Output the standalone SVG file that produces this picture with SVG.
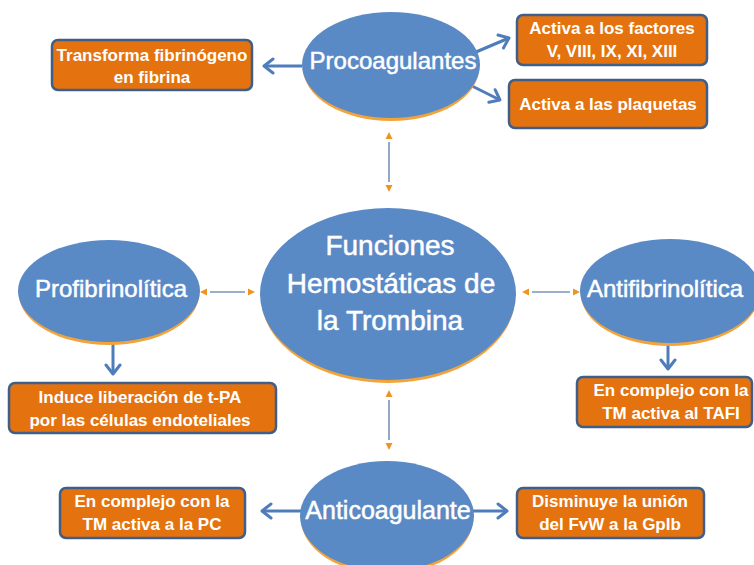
<svg xmlns="http://www.w3.org/2000/svg" width="754" height="565" viewBox="0 0 754 565">
<style>
.ell{fill:#5A8AC6;}
.shadow{fill:#F2A43A;}
.etext{fill:#ffffff;stroke:#ffffff;stroke-width:0.5;font-family:"Liberation Sans",Arial,sans-serif;text-anchor:middle;}
.box{fill:#E4730F;stroke:#3F5E88;stroke-width:2.5;}
.btext{fill:#ffffff;font-family:"Liberation Sans",Arial,sans-serif;font-weight:bold;font-size:17px;text-anchor:middle;}
.blue{stroke:#4F7DBB;stroke-width:3;fill:none;marker-end:url(#bh);}
.dash{stroke:#7A93B8;stroke-width:1.6;fill:none;marker-start:url(#oh);marker-end:url(#oh);}
</style>
<defs>
<marker id="bh" markerUnits="userSpaceOnUse" markerWidth="18" markerHeight="18" viewBox="0 0 18 18" refX="13" refY="9" orient="auto">
<path d="M4,2 L13,9 L4,16" fill="none" stroke="#4F7DBB" stroke-width="3" stroke-linecap="round" stroke-linejoin="round"/>
</marker>
<marker id="oh" markerUnits="userSpaceOnUse" markerWidth="12" markerHeight="10" viewBox="0 0 12 10" refX="0" refY="5" orient="auto-start-reverse">
<path d="M3,1.5 L10,5 L3,8.5 Z" fill="#EE9424"/>
</marker>
</defs>
<rect width="754" height="565" fill="#ffffff"/>

<g id="connectors">
<path class="blue" d="M302,66 L264,66"/>
<path class="blue" d="M476,52 L509,38"/>
<path class="blue" d="M472,86 L500,100"/>
<path class="blue" d="M113,342 L113,374"/>
<path class="blue" d="M668,338 L668,369"/>
<path class="blue" d="M303,511 L262,511"/>
<path class="blue" d="M470,511 L507,511"/>
<path class="dash" d="M389,142 L389,182"/>
<path class="dash" d="M389,400 L389,440"/>
<path class="dash" d="M210,292 L245,292"/>
<path class="dash" d="M532,292 L570,292"/>
</g>

<g id="central">
<ellipse class="shadow" cx="388" cy="297" rx="127" ry="86"/>
<ellipse class="ell" cx="388" cy="294" rx="128" ry="86"/>
<text class="etext" font-size="28" x="390" y="255">Funciones</text>
<text class="etext" font-size="28" x="391" y="293">Hemostáticas de</text>
<text class="etext" font-size="28" x="390" y="330">la Trombina</text>
</g>

<g id="procoagulantes">
<ellipse class="shadow" cx="391" cy="68" rx="88" ry="53"/>
<ellipse class="ell" cx="391" cy="65" rx="89" ry="53"/>
<text class="etext" font-size="24" x="393" y="69">Procoagulantes</text>
</g>

<g id="profibrinolitica">
<ellipse class="shadow" cx="109" cy="294" rx="90" ry="51"/>
<ellipse class="ell" cx="109" cy="291" rx="91" ry="51"/>
<text class="etext" font-size="24" x="111" y="297">Profibrinolítica</text>
</g>

<g id="antifibrinolitica">
<ellipse class="shadow" cx="670" cy="294" rx="89" ry="52"/>
<ellipse class="ell" cx="670" cy="291" rx="90" ry="52"/>
<text class="etext" font-size="24" x="587" y="297" style="text-anchor:start">Antifibrinolítica</text>
</g>

<g id="anticoagulante">
<ellipse class="shadow" cx="387" cy="519" rx="86" ry="55"/>
<ellipse class="ell" cx="387" cy="516" rx="87" ry="55"/>
<text class="etext" font-size="25" x="388" y="519">Anticoagulante</text>
</g>

<g id="box-fibrina">
<rect class="box" x="52" y="40" width="200" height="50" rx="6"/>
<text class="btext" x="152" y="61">Transforma fibrinógeno</text>
<text class="btext" x="152" y="83">en fibrina</text>
</g>

<g id="box-factores">
<rect class="box" x="517" y="15" width="190" height="50" rx="6"/>
<text class="btext" x="612" y="34">Activa a los factores</text>
<text class="btext" x="612" y="57">V, VIII, IX, XI, XIII</text>
</g>

<g id="box-plaquetas">
<rect class="box" x="509" y="80" width="198" height="48" rx="6"/>
<text class="btext" x="608" y="110">Activa a las plaquetas</text>
</g>

<g id="box-tpa">
<rect class="box" x="9" y="383" width="267" height="50" rx="6"/>
<text class="btext" x="140" y="403">Induce liberación de t-PA</text>
<text class="btext" x="140" y="426">por las células endoteliales</text>
</g>

<g id="box-tafi">
<rect class="box" x="577" y="377" width="175" height="50" rx="6"/>
<text class="btext" x="671" y="396">En complejo con la</text>
<text class="btext" x="671" y="419">TM activa al TAFI</text>
</g>

<g id="box-pc">
<rect class="box" x="60" y="488" width="185" height="50" rx="6"/>
<text class="btext" x="152" y="507">En complejo con la</text>
<text class="btext" x="152" y="530">TM activa a la PC</text>
</g>

<g id="box-gpib">
<rect class="box" x="517" y="488" width="187" height="50" rx="6"/>
<text class="btext" x="610" y="507">Disminuye la unión</text>
<text class="btext" x="610" y="530">del FvW a la GpIb</text>
</g>
</svg>
